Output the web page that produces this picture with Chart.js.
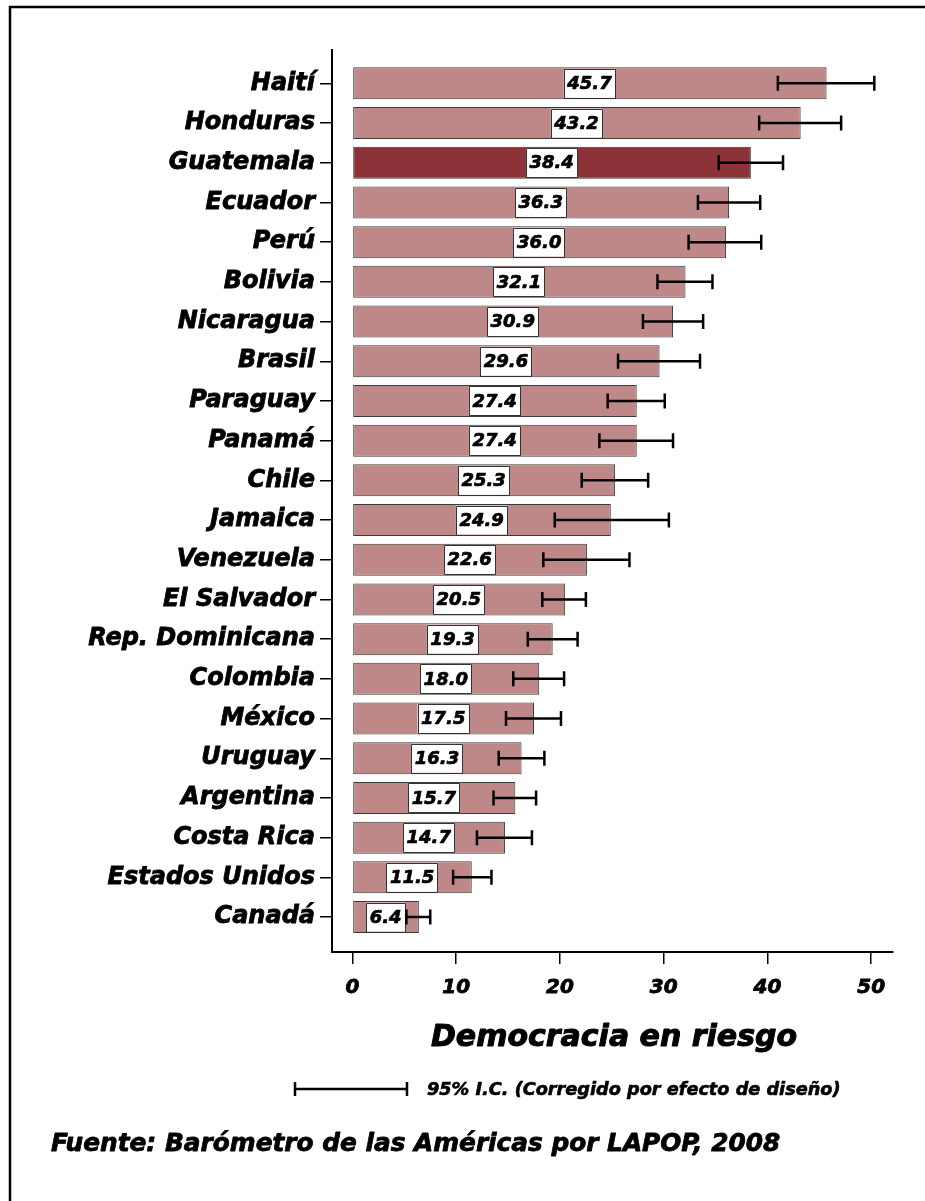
<!DOCTYPE html>
<html><head><meta charset="utf-8">
<script src="https://cdn.jsdelivr.net/npm/chart.js@4.4.1/dist/chart.umd.min.js"></script>
<style>html,body{margin:0;padding:0;background:#fff}canvas{display:block}</style>
</head><body>
<canvas id="c" width="925" height="1201"></canvas>
<script>
const categories = ["Haití","Honduras","Guatemala","Ecuador","Perú","Bolivia","Nicaragua","Brasil","Paraguay","Panamá","Chile","Jamaica","Venezuela","El Salvador","Rep. Dominicana","Colombia","México","Uruguay","Argentina","Costa Rica","Estados Unidos","Canadá"];
const values = [45.7,43.2,38.4,36.3,36.0,32.1,30.9,29.6,27.4,27.4,25.3,24.9,22.6,20.5,19.3,18.0,17.5,16.3,15.7,14.7,11.5,6.4];
const ciLow  = [41.0,39.2,35.3,33.3,32.4,29.4,28.0,25.6,24.6,23.8,22.1,19.5,18.4,18.3,16.9,15.5,14.8,14.1,13.6,12.0,9.7,5.2];
const ciHigh = [50.3,47.1,41.5,39.3,39.4,34.7,33.8,33.5,30.1,30.9,28.5,30.5,26.7,22.5,21.7,20.4,20.1,18.5,17.7,17.3,13.4,7.5];
const xTicks = [0,10,20,30,40,50];
const highlighted = "Guatemala";
const titleText = "Democracia en riesgo";
const legendText = "95% I.C. (Corregido por efecto de diseño)";
const sourceText = "Fuente: Barómetro de las Américas por LAPOP, 2008";

const FONT = "'DejaVu Sans', sans-serif";
const barColor = 'rgb(190,135,136)';
const hiColor = 'rgb(142,50,58)';

function heavyText(ctx, txt, x, y, sw) {
  ctx.lineWidth = sw;
  ctx.strokeStyle = '#000';
  ctx.lineJoin = 'round';
  ctx.strokeText(txt, x, y);
  ctx.fillText(txt, x, y);
}

const decor = {
  id: 'decor',
  beforeDraw(chart) {
    const ctx = chart.ctx;
    ctx.save();
    ctx.fillStyle = '#fff';
    ctx.fillRect(0, 0, chart.width, chart.height);
    ctx.strokeStyle = '#000';
    ctx.lineWidth = 2.5;
    ctx.beginPath();
    ctx.moveTo(10, chart.height + 2);
    ctx.lineTo(10, 7);
    ctx.lineTo(chart.width + 2, 7);
    ctx.stroke();
    ctx.restore();
  },
  afterDatasetsDraw(chart) {
    const ctx = chart.ctx, xs = chart.scales.x, ys = chart.scales.y;
    const meta = chart.getDatasetMeta(0);
    ctx.save();
    ctx.font = `italic bold 18px ${FONT}`;
    ctx.textAlign = 'center';
    ctx.textBaseline = 'middle';
    values.forEach((v, i) => {
      const y = ys.getPixelForValue(i);
      const cx = xs.getPixelForValue(v / 2);
      const h = meta.data[i].height - 3;
      const txt = v.toFixed(1);
      const w = ctx.measureText(txt).width + 7;
      ctx.fillStyle = '#fff';
      ctx.fillRect(cx - w / 2, y - h / 2, w, h);
      ctx.strokeStyle = '#333';
      ctx.lineWidth = 1;
      ctx.strokeRect(Math.round(cx - w / 2) + 0.5, Math.round(y - h / 2) + 0.5, Math.round(w), Math.round(h));
      ctx.fillStyle = '#000';
      heavyText(ctx, txt, cx, y + 1, 0.7);
    });
    ctx.strokeStyle = '#000';
    ctx.lineWidth = 2.5;
    ctx.lineJoin = 'miter';
    categories.forEach((c, i) => {
      const y = ys.getPixelForValue(i);
      const x1 = xs.getPixelForValue(ciLow[i]);
      const x2 = xs.getPixelForValue(ciHigh[i]);
      ctx.beginPath();
      ctx.moveTo(x1, y); ctx.lineTo(x2, y);
      ctx.moveTo(x1, y - 7.5); ctx.lineTo(x1, y + 7.5);
      ctx.moveTo(x2, y - 7.5); ctx.lineTo(x2, y + 7.5);
      ctx.stroke();
    });
    ctx.restore();
  },
  afterDraw(chart) {
    const ctx = chart.ctx;
    ctx.save();
    ctx.fillStyle = '#000';
    ctx.textBaseline = 'alphabetic';
    ctx.font = `italic bold 30px ${FONT}`;
    ctx.textAlign = 'center';
    heavyText(ctx, titleText, 614, 1046, 1);
    ctx.strokeStyle = '#000';
    ctx.lineWidth = 2.5;
    ctx.beginPath();
    ctx.moveTo(295, 1089); ctx.lineTo(407, 1089);
    ctx.moveTo(295, 1082); ctx.lineTo(295, 1096);
    ctx.moveTo(407, 1082); ctx.lineTo(407, 1096);
    ctx.stroke();
    ctx.textAlign = 'left';
    ctx.font = `italic bold 17.7px ${FONT}`;
    heavyText(ctx, legendText, 427, 1095, 0.6);
    ctx.font = `italic bold 24.8px ${FONT}`;
    heavyText(ctx, sourceText, 51, 1151, 0.8);
    ctx.restore();
  }
};

new Chart(document.getElementById('c'), {
  type: 'bar',
  data: {
    datasets: [{
      data: values.map((v, i) => ({ x: v, y: i })),
      backgroundColor: categories.map(c => c === highlighted ? hiColor : barColor),
      borderColor: '#3a3a3a',
      borderWidth: 1,
      borderSkipped: false,
      barPercentage: 0.806,
      categoryPercentage: 1
    }]
  },
  options: {
    indexAxis: 'y',
    responsive: false,
    animation: false,
    devicePixelRatio: 1,
    layout: { padding: { left: 0, right: 32, top: 50, bottom: 0 } },
    plugins: { legend: { display: false }, tooltip: { enabled: false } },
    scales: {
      x: {
        type: 'linear', min: -1.97, max: 52.1,
        afterBuildTicks: s => { s.ticks = xTicks.map(v => ({ value: v })); },
        afterFit: s => { s.height = 1201 - 952; },
        grid: { drawOnChartArea: false, drawTicks: true, tickLength: 12, color: '#000', lineWidth: 1.5 },
        border: { display: true, color: '#000', width: 2 },
        ticks: { font: { family: FONT, size: 20, weight: 'bold', style: 'italic' }, color: '#000', textStrokeColor: '#000', textStrokeWidth: 0.8, padding: 12, maxRotation: 0, autoSkip: false }
      },
      y: {
        type: 'linear', reverse: true, min: -0.84, max: 21.88, offset: false,
        afterBuildTicks: s => { s.ticks = categories.map((_, i) => ({ value: i })); },
        afterFit: s => { s.width = 332; },
        grid: { offset: false, drawOnChartArea: false, drawTicks: true, tickLength: 12, color: '#000', lineWidth: 1.5 },
        border: { display: true, color: '#000', width: 2 },
        ticks: { autoSkip: false, callback: v => categories[v], font: { family: FONT, size: 24, weight: 'bold', style: 'italic' }, color: '#000', textStrokeColor: '#000', textStrokeWidth: 0.8, padding: 5 }
      }
    }
  },
  plugins: [decor]
});
</script>
</body></html>
